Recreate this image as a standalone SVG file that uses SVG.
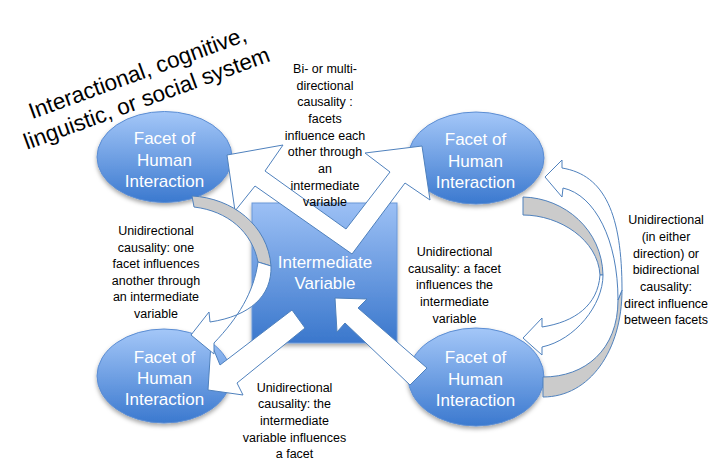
<svg xmlns="http://www.w3.org/2000/svg" width="718" height="466" viewBox="0 0 718 466">
<defs>
<linearGradient id="gE" x1="0" y1="0" x2="0" y2="1">
<stop offset="0" stop-color="#a4c7f8"/>
<stop offset="1" stop-color="#3b79cf"/>
</linearGradient>
<linearGradient id="gS" x1="0" y1="0" x2="0" y2="1">
<stop offset="0" stop-color="#9cc0f5"/>
<stop offset="1" stop-color="#3a77cc"/>
</linearGradient>
<filter id="sh" x="-20%" y="-20%" width="140%" height="150%">
<feDropShadow dx="0" dy="2.5" stdDeviation="2" flood-color="#000" flood-opacity="0.35"/>
</filter>
</defs>
<style>
.node ellipse{fill:url(#gE);stroke:#5b8dd3;stroke-width:1;filter:url(#sh)}
.sq{fill:url(#gS);stroke:#6a98d8;stroke-width:1;filter:url(#sh)}
.nt{font-family:"Liberation Sans",Arial,sans-serif;font-size:17px;fill:#ffffff;text-anchor:middle}
.lbl{font-family:"Liberation Sans",Arial,sans-serif;font-size:12.5px;fill:#000000;text-anchor:middle}
.ttl{font-family:"Liberation Sans",Arial,sans-serif;font-size:22.5px;fill:#000000;text-anchor:middle}
.arr{fill:#ffffff;stroke:#4f81bd;stroke-width:1;stroke-linejoin:miter}
.back{fill:#cbcbcb;stroke:#4f81bd;stroke-width:1;stroke-linejoin:miter}
</style>
<rect width="718" height="466" fill="#ffffff"/>

<text class="ttl" transform="translate(140,80) rotate(-20)"><tspan x="0" y="0">Interactional, cognitive,</tspan><tspan x="0" y="27">linguistic, or social system</tspan></text>

<g id="intermediate">
<rect class="sq" x="252" y="203" width="145" height="140"/>
<text class="nt"><tspan x="325" y="268">Intermediate</tspan><tspan x="325" y="289">Variable</tspan></text>
</g>

<g id="facet-top-left" class="node">
<ellipse cx="164.5" cy="157" rx="67.5" ry="45.5"/>
<text class="nt"><tspan x="164.5" y="144">Facet of</tspan><tspan x="164.5" y="165.5">Human</tspan><tspan x="164.5" y="187">Interaction</tspan></text>
</g>
<g id="facet-top-right" class="node">
<ellipse cx="476" cy="158" rx="68" ry="46"/>
<text class="nt"><tspan x="475.5" y="145">Facet of</tspan><tspan x="475.5" y="166.5">Human</tspan><tspan x="475.5" y="188">Interaction</tspan></text>
</g>
<g id="facet-bottom-left" class="node">
<ellipse cx="164" cy="376" rx="67" ry="47"/>
<text class="nt"><tspan x="164.5" y="363">Facet of</tspan><tspan x="164.5" y="384">Human</tspan><tspan x="164.5" y="405">Interaction</tspan></text>
</g>
<g id="facet-bottom-right" class="node">
<ellipse cx="476" cy="377" rx="68" ry="49"/>
<text class="nt"><tspan x="475.5" y="363">Facet of</tspan><tspan x="475.5" y="384.5">Human</tspan><tspan x="475.5" y="406">Interaction</tspan></text>
</g>

<g id="connectors">
<polygon class="arr" points="227,155 283,145 265,171 346,229 390,172 365,153 422,146 430,200 405,183 352,254 255,186 235,211"/>
<polygon class="arr" points="335,298 367,299 358,308 427,368 410,385 345,323 337,332"/>
<polygon class="arr" points="292,310 305,328 237,383 243,395 208,390 211,343 220,365"/>
<path class="back" d="M192,196 C232,198 268,225 271,266 L258,262 C252,232 228,211 194,207 Z"/>
<path class="arr" d="M271,266 C272,296 250,316 210,322 L209,312 L191,335 L214,354 L214,343 C238,318 254,292 258,262 Z"/>
<path class="back" d="M543,397 C590,397 622,350 622,290 L618,300 C618,350 585,377 543,377 Z"/>
<path class="arr" d="M622,290 C622,215 605,175 562,168 L562,160 L545,177 L562,197 L563,188 C595,195 618,240 618,300 Z"/>
<path class="back" d="M523,197 C565,198 602,230 603,275 L600,275 C598,240 560,215 523,215 Z"/>
<path class="arr" d="M603,275 C603,305 575,340 542,347 L542,355 L523,338 L542,318 L542,327 C575,322 598,305 600,275 Z"/>
</g>

<g id="labels">
<text class="lbl"><tspan x="325" y="73">Bi- or multi-</tspan><tspan x="325" y="89.7">directional</tspan><tspan x="325" y="106.4">causality :</tspan><tspan x="325" y="123">facets</tspan><tspan x="325" y="139.7">influence each</tspan><tspan x="325" y="156.4">other through</tspan><tspan x="325" y="173">an</tspan><tspan x="325" y="189.7">intermediate</tspan><tspan x="325" y="206.4">variable</tspan></text>
<text class="lbl"><tspan x="156" y="235">Unidirectional</tspan><tspan x="156" y="251.6">causality: one</tspan><tspan x="156" y="268.2">facet influences</tspan><tspan x="156" y="284.8">another through</tspan><tspan x="156" y="301.4">an intermediate</tspan><tspan x="156" y="318">variable</tspan></text>
<text class="lbl"><tspan x="294.5" y="391.7">Unidirectional</tspan><tspan x="294.5" y="408.3">causality: the</tspan><tspan x="294.5" y="425">intermediate</tspan><tspan x="294.5" y="441.6">variable influences</tspan><tspan x="294.5" y="458.2">a facet</tspan></text>
<text class="lbl"><tspan x="454.5" y="256">Unidirectional</tspan><tspan x="454.5" y="272.7">causality: a facet</tspan><tspan x="454.5" y="289.3">influences the</tspan><tspan x="454.5" y="306">intermediate</tspan><tspan x="454.5" y="322.7">variable</tspan></text>
<text class="lbl"><tspan x="666" y="224.3">Unidirectional</tspan><tspan x="666" y="241">(in either</tspan><tspan x="666" y="257.7">direction) or</tspan><tspan x="666" y="274.3">bidirectional</tspan><tspan x="666" y="291">causality:</tspan><tspan x="666" y="307.7">direct influence</tspan><tspan x="666" y="324.3">between facets</tspan></text>
</g>
</svg>
